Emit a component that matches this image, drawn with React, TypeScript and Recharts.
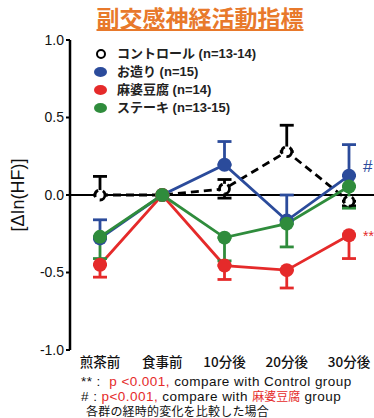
import { LineChart, Line, XAxis, YAxis, ErrorBar, ReferenceLine } from 'recharts';

const categories = ['煎茶前', '食事前', '10分後', '20分後', '30分後'];

// mean change and [below, above] error extents per time point
const control = [0.0, 0.0, 0.04, 0.28, -0.04];
const controlErr: [number, number][] = [[0, 0.12], [0, 0], [0.06, 0.06], [0, 0.17], [0.03, 0]];

const otsukuri = [-0.28, 0.0, 0.195, -0.165, 0.125];
const otsukuriErr: [number, number][] = [[0, 0.12], [0, 0], [0, 0.15], [0, 0.165], [0, 0.2]];

const mabo = [-0.45, 0.0, -0.455, -0.485, -0.26];
const maboErr: [number, number][] = [[0.08, 0], [0, 0], [0.09, 0], [0.115, 0], [0.15, 0]];

const steak = [-0.27, 0.0, -0.275, -0.185, 0.055];
const steakErr: [number, number][] = [[0.14, 0], [0, 0], [0.15, 0], [0.15, 0], [0.14, 0]];

const yTicks = [-1, -0.5, 0, 0.5, 1];

const BLUE = '#2b4b9b';
const RED = '#e52a2a';
const GREEN = '#2f8c3c';
const ORANGE = '#e8792b';
const FONT = '"Liberation Sans", Arial, "Noto Sans CJK JP", sans-serif';
const JP = '"Noto Sans CJK JP", sans-serif';

const legendItems = [
  { label: 'コントロール (n=13-14)', color: '#000', open: true },
  { label: 'お造り (n=15)', color: BLUE, open: false },
  { label: '麻婆豆腐 (n=14)', color: RED, open: false },
  { label: 'ステーキ (n=13-15)', color: GREEN, open: false },
];

const data = categories.map((name, i) => ({
  name,
  control: control[i],
  controlErr: controlErr[i],
  otsukuri: otsukuri[i],
  otsukuriErr: otsukuriErr[i],
  mabo: mabo[i],
  maboErr: maboErr[i],
  steak: steak[i],
  steakErr: steakErr[i],
}));

function LegendBox() {
  return (
    <div
      style={{
        position: 'absolute',
        left: 94,
        top: 45,
        fontFamily: FONT,
        fontSize: 13,
        fontWeight: 'bold',
        lineHeight: '18px',
        color: '#222',
      }}
    >
      {legendItems.map((it) => (
        <div key={it.label} style={{ display: 'flex', alignItems: 'center' }}>
          <span
            style={{
              display: 'inline-block',
              width: it.open ? 6 : 13,
              height: it.open ? 6 : 10,
              borderRadius: '50%',
              background: it.open ? '#fff' : it.color,
              border: it.open ? '2.5px solid #000' : 'none',
              marginLeft: it.open ? 2 : 0,
              marginRight: it.open ? 11 : 10,
            }}
          />
          {it.label}
        </div>
      ))}
    </div>
  );
}

const tickStyle = { fontFamily: FONT, fontSize: 14, fill: '#111' };

export default function App() {
  return (
    <div style={{ position: 'absolute', left: 0, top: 0, width: 374, height: 418, background: '#fff', fontFamily: FONT }}>
      <div
        style={{
          position: 'absolute',
          left: 0,
          width: 374,
          top: 2,
          textAlign: 'center',
          fontSize: 23,
          lineHeight: '30px',
          fontWeight: 'bold',
          color: ORANGE,
          textDecoration: 'underline',
          textDecorationThickness: 2,
          textUnderlineOffset: 2,
          fontFamily: JP,
          paddingLeft: 26,
          boxSizing: 'border-box',
        }}
      >
        副交感神経活動指標
      </div>
      <LineChart
        width={374}
        height={418}
        data={data}
        margin={{ top: 40, right: 0, bottom: 38, left: 0 }}
        style={{ position: 'absolute', left: 0, top: 0 }}
      >
        <XAxis
          dataKey="name"
          axisLine={false}
          tickLine={false}
          padding={{ left: 30, right: 25 }}
          tick={{ ...tickStyle, fontSize: 13.5, fontFamily: JP, fontWeight: 500 }}
          tickMargin={1}
          interval={0}
          height={30}
        />
        <YAxis
          domain={[-1, 1]}
          ticks={yTicks}
          tickFormatter={(v: number) => v.toFixed(1)}
          axisLine={{ stroke: '#000', strokeWidth: 2.5 }}
          tickLine={{ stroke: '#000', strokeWidth: 2 }}
          tickSize={4}
          tick={tickStyle}
          width={70}
          allowDataOverflow
          label={{
            value: '[ΔIn(HF)]',
            angle: -90,
            position: 'insideLeft',
            offset: 18,
            style: { fontFamily: FONT, fontSize: 18, fill: '#111', textAnchor: 'middle' },
          }}
        />
        <ReferenceLine y={0} stroke="#000" strokeWidth={2} />
        <Line
          dataKey="control"
          stroke="#000"
          strokeWidth={2.8}
          strokeDasharray="8 5"
          dot={{ r: 5, fill: '#fff', stroke: '#000', strokeWidth: 2.8 }}
          isAnimationActive={false}
        >
          <ErrorBar dataKey="controlErr" stroke="#000" strokeWidth={2.8} width={7} direction="y" />
        </Line>
        <Line
          dataKey="otsukuri"
          stroke={BLUE}
          strokeWidth={2.8}
          dot={{ r: 7, fill: BLUE, stroke: BLUE, strokeWidth: 0 }}
          isAnimationActive={false}
        >
          <ErrorBar dataKey="otsukuriErr" stroke={BLUE} strokeWidth={2.8} width={7} direction="y" />
        </Line>
        <Line
          dataKey="mabo"
          stroke={RED}
          strokeWidth={2.8}
          dot={{ r: 7, fill: RED, stroke: RED, strokeWidth: 0 }}
          isAnimationActive={false}
        >
          <ErrorBar dataKey="maboErr" stroke={RED} strokeWidth={2.8} width={7} direction="y" />
        </Line>
        <Line
          dataKey="steak"
          stroke={GREEN}
          strokeWidth={2.8}
          dot={{ r: 7, fill: GREEN, stroke: GREEN, strokeWidth: 0 }}
          isAnimationActive={false}
        >
          <ErrorBar dataKey="steakErr" stroke={GREEN} strokeWidth={2.8} width={7} direction="y" />
        </Line>
      </LineChart>
      <LegendBox />
      <div style={{ position: 'absolute', left: 363, top: 157, color: BLUE, fontSize: 17 }}>#</div>
      <div style={{ position: 'absolute', left: 363, top: 228, color: RED, fontSize: 14 }}>**</div>
      <div
        style={{
          position: 'absolute',
          left: 81,
          top: 374,
          fontSize: 13.5,
          letterSpacing: '0.45px',
          lineHeight: '15px',
          color: '#111',
          whiteSpace: 'nowrap',
        }}
      >
        <div>
          ** :&nbsp; <span style={{ color: RED }}>p &lt;0.001,</span> compare with Control group
        </div>
        <div style={{ lineHeight: '14px' }}>
          # : <span style={{ color: RED }}>p&lt;0.001,</span> compare with{' '}
          <span style={{ color: RED, fontSize: 12, fontFamily: JP, letterSpacing: 0 }}>麻婆豆腐</span> group
        </div>
        <div style={{ paddingLeft: 5, fontFamily: JP, fontSize: 12, lineHeight: '14px', letterSpacing: 0.2 }}>
          各群の経時的変化を比較した場合
        </div>
      </div>
    </div>
  );
}
